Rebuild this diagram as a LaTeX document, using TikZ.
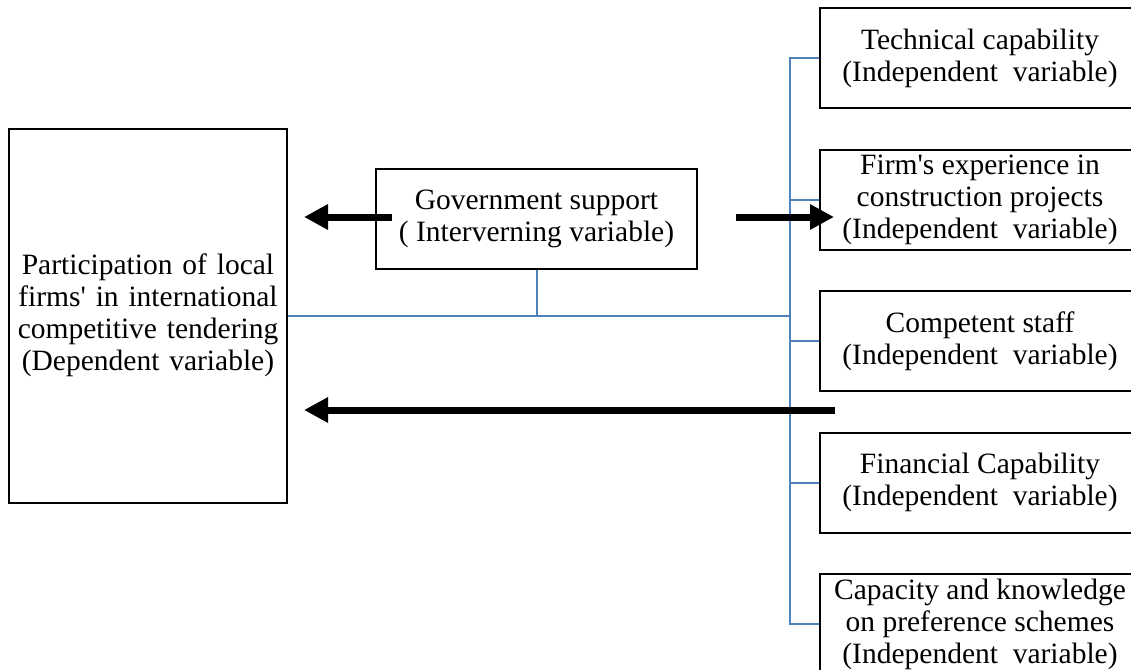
\documentclass[tikz,border=0pt]{standalone}
\usepackage{fontspec}
\setmainfont{Liberation Serif}
\usepackage{xcolor}
\definecolor{linkblue}{HTML}{4F81BD}
\usetikzlibrary{arrows.meta,positioning,calc}
\tikzset{
  vb/.style={draw, align=center, line width=2pt, inner sep=2pt,
             font=\fontsize{29.5}{32}\selectfont},
  vdep/.style={vb, minimum width=278pt, minimum height=374pt, text width=272pt},
  vgov/.style={vb, minimum width=321pt, minimum height=100pt},
  vind/.style={vb, minimum width=320pt, minimum height=100pt},
  ar/.style={-{Triangle[length=24pt,width=24pt]}, line width=7pt},
  lk/.style={draw=linkblue, line width=2pt},
}
\begin{document}
\begin{tikzpicture}[x=1pt,y=-1pt]
  \clip (0,0) rectangle (1131,669);
  \node[vdep] (dep) at (148,315.5) {Participation of local\\ firms\textquotesingle{} in international\\ competitive tendering\\ (Dependent variable)};
  \node[vgov] (gov) at (536.5,219) {Government support\\ ( Interverning variable)};
  \node[vind] (tech) at (980,58) {Technical capability\\ (Independent~ variable)};
  \node[vind, below=39.5pt of tech] (exp) {Firm\textquotesingle{}s experience in\\ construction projects\\ (Independent~ variable)};
  \node[vind, below=39.5pt of exp] (staff) {Competent staff\\ (Independent~ variable)};
  \node[vind, below=39.5pt of staff] (fin) {Financial Capability\\ (Independent~ variable)};
  \node[vind, below=39.5pt of fin] (pref) {Capacity and knowledge\\ on preference schemes\\ (Independent~ variable)};
  % blue connectors
  \coordinate (spine) at (790,316);
  \draw[lk] (tech.west) -| (spine) |- (pref.west);
  \draw[lk] (spine |- exp.west) -- (exp.west);
  \draw[lk] (spine |- staff.west) -- (staff.west);
  \draw[lk] (spine |- fin.west) -- (fin.west);
  \draw[lk] (dep.east |- spine) -- (spine);
  \draw[lk] (gov.south) -- (gov.south |- spine);
  % arrows
  \coordinate (g1) at ($(gov.west)+(17,-2)$);
  \coordinate (d1) at ($(dep.east |- g1)+(16,0)$);
  \coordinate (g2) at ($(gov.east)+(38,-2)$);
  \coordinate (e2) at ($(exp.west |- g2)+(15,0)$);
  \coordinate (s3) at (835,410);
  \coordinate (d3) at ($(dep.east |- s3)+(16,0)$);
  \draw[ar] (g1) -- (d1);
  \draw[ar] (g2) -- (e2);
  \draw[ar] (s3) -- (d3);
\end{tikzpicture}
\end{document}
